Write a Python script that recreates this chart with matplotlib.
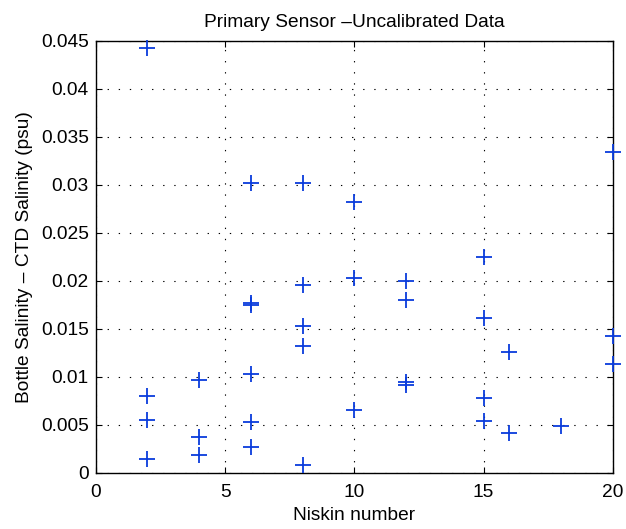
import matplotlib
matplotlib.use("Agg")
import matplotlib.pyplot as plt
import numpy as np

plt.rcParams['font.family'] = ['Liberation Sans', 'DejaVu Sans']

# Niskin bottle number and bottle - CTD salinity difference (psu)
niskin = [2, 2, 2, 2,
          4, 4, 4,
          6, 6, 6, 6, 6, 6,
          8, 8, 8, 8, 8,
          10, 10, 10,
          12, 12, 12, 12,
          15, 15, 15, 15,
          16, 16,
          18,
          20, 20, 20]
sal_diff = [0.0442, 0.0080, 0.0055, 0.0014,
            0.0097, 0.0037, 0.0019,
            0.0302, 0.0177, 0.0175, 0.0103, 0.0053, 0.0027,
            0.0302, 0.0196, 0.0153, 0.0132, 0.0008,
            0.0282, 0.0203, 0.0066,
            0.0200, 0.0180, 0.0095, 0.0092,
            0.0225, 0.0161, 0.0078, 0.0054,
            0.0126, 0.0042,
            0.0049,
            0.0334, 0.0143, 0.0113]

xticks = [0, 5, 10, 15, 20]
yticks = [0, 0.005, 0.01, 0.015, 0.02, 0.025, 0.03, 0.035, 0.04, 0.045]

fs = 13.8

fig = plt.figure(figsize=(6.26, 5.29), dpi=100)
ax = fig.add_axes([0.153, 0.106, 0.826, 0.817])

ax.plot(niskin, sal_diff, linestyle="none", marker="+", color="#0a3cdc",
        markersize=11, markeredgewidth=1.3, clip_on=False, zorder=3)

ax.set_xlim(0, 20)
ax.set_ylim(0, 0.045)
ax.set_xticks(xticks)
ax.set_yticks(yticks)
ax.set_yticklabels([f"{v:g}" for v in yticks])
ax.tick_params(direction="in", top=True, right=True, labelsize=fs, length=4)
ax.tick_params(axis="x", pad=8)
ax.tick_params(axis="y", pad=5)
ax.grid(True, linestyle=(0, (1.2, 8.8)), color="black", linewidth=0.8)
for s in ax.spines.values():
    s.set_linewidth(1.0)

ax.set_title("Primary Sensor \u2013Uncalibrated Data", fontsize=fs, pad=10)
ax.set_xlabel("Niskin number", fontsize=fs, labelpad=4)
ax.set_ylabel("Bottle Salinity \u2013 CTD Salinity (psu)", fontsize=fs, labelpad=6)

fig.savefig("out.png", dpi=100)
